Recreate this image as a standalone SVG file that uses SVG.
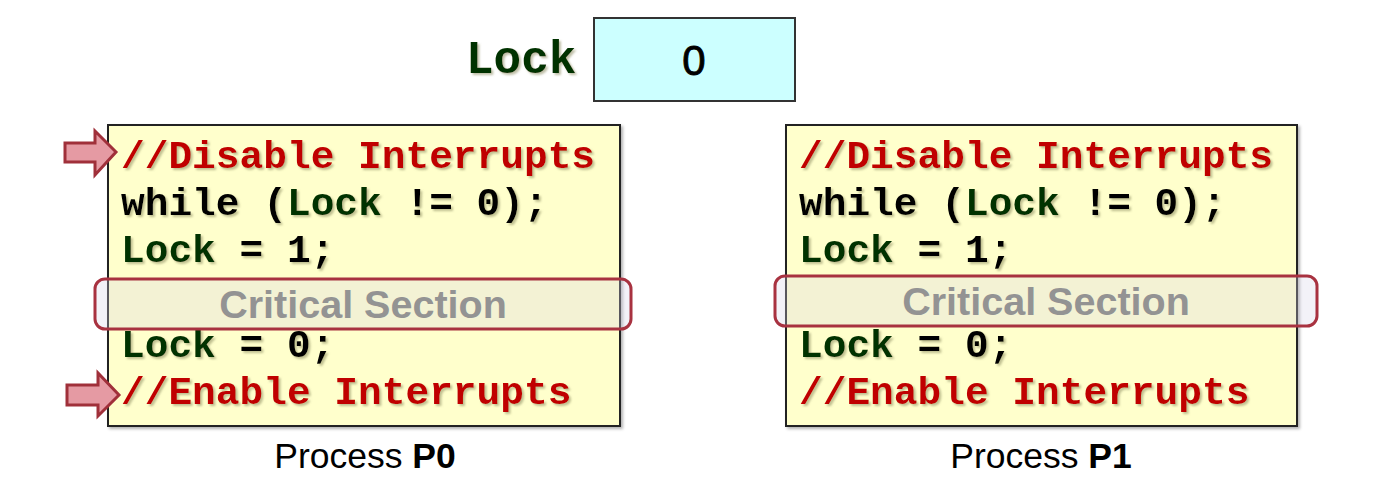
<svg xmlns="http://www.w3.org/2000/svg" width="1384" height="490" viewBox="0 0 1384 490">
<defs>
<filter id="sh" x="-5%" y="-20%" width="110%" height="150%">
<feDropShadow dx="2" dy="2" stdDeviation="1" flood-color="#8a8a60" flood-opacity="0.55"/>
</filter>
<filter id="bsh" x="-5%" y="-5%" width="110%" height="110%">
<feDropShadow dx="2" dy="2" stdDeviation="1.5" flood-color="#000" flood-opacity="0.3"/>
</filter>
</defs>
<style>
.code{font-family:"Liberation Mono","Courier New",monospace;font-weight:bold;font-size:39.5px;fill:#000}
.red{fill:#c00000}
.grn{fill:#003300}
.box{fill:#ffffcc;stroke:#222;stroke-width:2}
.crit{fill:#d8d4e8;fill-opacity:0.3;stroke:#a83240;stroke-width:3}
.crittxt{font-family:"Liberation Sans",Arial,sans-serif;font-weight:bold;font-size:39.5px;fill:#939393;text-anchor:middle}
.lbl{font-family:"Liberation Sans",Arial,sans-serif;font-size:35.5px;fill:#000;text-anchor:middle}
.arr{fill:#e59aa3;stroke:#a0303a;stroke-width:3;stroke-linejoin:miter}
</style>
<g id="lock">
<text x="466" y="73" class="code grn" style="font-size:46px" filter="url(#sh)">Lock</text>
<rect x="594" y="18" width="201" height="83" fill="#ccffff" stroke="#333" stroke-width="2"/>
<text x="694" y="75" font-family="Liberation Sans, Arial, sans-serif" font-size="42" text-anchor="middle" fill="#000" stroke="#000" stroke-width="0.9">0</text>
</g>
<g id="p0">
<rect class="box" x="108" y="125" width="512" height="301" filter="url(#bsh)"/>
<g class="code" filter="url(#sh)">
<text x="121" y="168" class="red">//Disable Interrupts</text>
<text x="121" y="215">while (<tspan class="grn">Lock</tspan> != 0);</text>
<text x="121" y="262"><tspan class="grn">Lock</tspan> = 1;</text>
<text x="121" y="357"><tspan class="grn">Lock</tspan> = 0;</text>
<text x="121" y="404" class="red">//Enable Interrupts</text>
</g>
<rect class="crit" x="95" y="279" width="536" height="50" rx="10"/>
<text x="363" y="318" class="crittxt">Critical Section</text>
<text x="365" y="468" class="lbl">Process <tspan font-weight="bold">P0</tspan></text>
</g>
<g id="p1">
<rect class="box" x="786" y="125" width="511" height="301" filter="url(#bsh)"/>
<g class="code" filter="url(#sh)">
<text x="799" y="168" class="red">//Disable Interrupts</text>
<text x="799" y="215">while (<tspan class="grn">Lock</tspan> != 0);</text>
<text x="799" y="262"><tspan class="grn">Lock</tspan> = 1;</text>
<text x="799" y="357"><tspan class="grn">Lock</tspan> = 0;</text>
<text x="799" y="404" class="red">//Enable Interrupts</text>
</g>
<rect class="crit" x="775" y="276" width="542" height="50" rx="10"/>
<text x="1046" y="315" class="crittxt">Critical Section</text>
<text x="1041" y="468" class="lbl">Process <tspan font-weight="bold">P1</tspan></text>
</g>
<g id="connectors">
<path class="arr" d="M65,143 H95 V131 L116,152 L95,175 V162 H65 Z"/>
<path class="arr" d="M67,385 H98 V373 L119,395 L98,416 V405 H67 Z"/>
</g>
</svg>
